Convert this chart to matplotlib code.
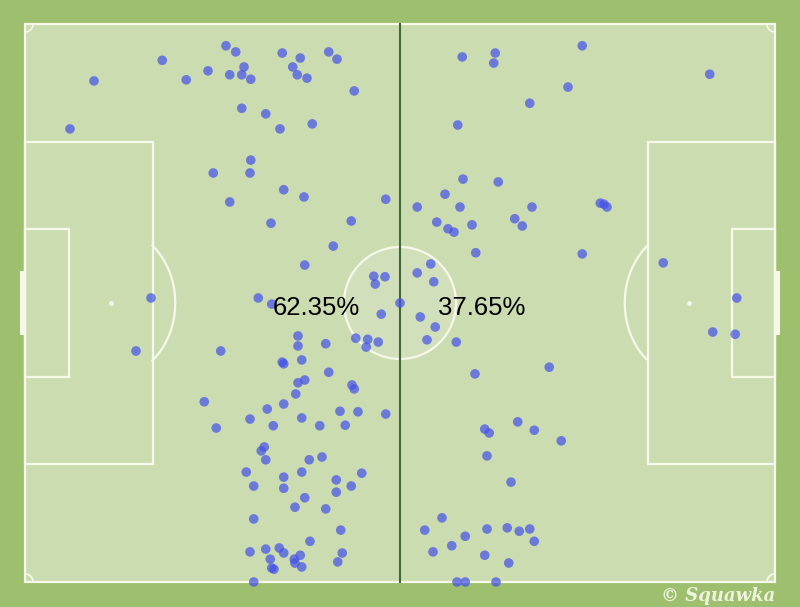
import numpy as np
import matplotlib.pyplot as plt
from matplotlib.patches import Rectangle, Ellipse

# event locations in Opta pitch units (0-100 both ways, y measured from bottom touchline)
left_x = [26.8, 28.1, 18.3, 34.3, 36.7, 40.5, 41.6, 9.2, 21.5, 24.4, 27.3, 29.2, 28.9, 30.1, 35.7,
          36.3, 37.6, 43.9, 28.9, 32.1, 34.0, 38.3, 6.0, 30.1, 25.1, 30.0, 34.5, 37.2, 48.1, 27.3,
          32.8, 43.5, 41.1, 37.3, 46.5, 48.0, 46.7, 16.8, 31.1, 32.9, 47.5, 50.0, 36.4, 36.4, 40.1,
          44.1, 45.7, 47.1, 45.5, 14.8, 26.1, 34.3, 34.5, 36.9, 40.5, 36.4, 37.3, 43.6, 43.9, 36.1,
          23.9, 32.3, 34.5, 42.0, 44.4, 48.1, 30.0, 36.9, 25.5, 33.1, 39.3, 42.7, 31.9, 31.5, 32.1,
          37.9, 39.6, 29.5, 34.5, 36.9, 44.9, 41.5, 43.5, 30.5, 34.5, 41.5, 37.3, 36.0, 40.1, 30.5,
          42.1, 38.0, 30.0, 32.1, 33.9, 34.5, 42.3, 32.7, 35.9, 36.7, 36.0, 41.7, 32.9, 33.2, 36.9,
          30.5]
left_y = [96.1, 95.0, 93.5, 94.8, 93.9, 95.0, 93.7, 89.8, 90.0, 91.6, 90.9, 92.3, 90.9, 90.1, 92.3,
          90.9, 90.3, 88.0, 84.9, 83.9, 81.2, 82.1, 81.2, 75.6, 73.3, 73.3, 70.3, 69.0, 68.6, 68.1,
          64.3, 64.7, 60.2, 56.8, 54.8, 54.7, 53.4, 50.9, 50.9, 49.8, 48.0, 50.0, 44.1, 42.3, 42.7,
          43.7, 43.5, 43.0, 42.1, 41.4, 41.4, 39.4, 39.1, 39.8, 37.6, 35.7, 36.2, 35.3, 34.6, 33.7,
          32.3, 31.0, 31.9, 30.6, 30.5, 30.1, 29.2, 29.4, 27.6, 28.0, 28.0, 28.1, 24.2, 23.5, 21.9,
          21.9, 22.4, 19.7, 18.8, 19.7, 19.5, 18.3, 17.2, 17.2, 16.8, 16.1, 15.1, 13.4, 13.1, 11.3,
          9.3, 7.3, 5.4, 5.9, 6.1, 5.2, 5.2, 4.1, 4.1, 4.8, 3.4, 3.6, 2.5, 2.3, 2.7,
          0.0]
right_x = [58.3, 62.7, 62.5, 74.3, 91.3, 72.4, 67.3, 57.7, 58.4, 63.1, 56.0, 52.3, 58.0, 67.6, 76.7,
           77.2, 77.6, 54.9, 56.4, 57.2, 59.6, 65.3, 66.3, 60.1, 74.3, 85.1, 54.1, 52.3, 54.5, 52.7,
           54.7, 53.6, 57.5, 94.9, 91.7, 94.7, 69.9, 60.0, 61.3, 61.9, 65.7, 67.9, 71.5, 61.6, 64.8,
           55.6, 53.3, 58.7, 56.9, 54.4, 61.6, 64.3, 65.9, 67.3, 67.9, 61.3, 64.5, 57.6, 58.7, 62.8]
right_y = [94.1, 94.8, 93.0, 96.1, 91.0, 88.7, 85.8, 81.9, 72.2, 71.7, 69.5, 67.2, 67.2, 67.2, 67.9,
           67.7, 67.2, 64.5, 63.3, 62.7, 64.0, 65.1, 63.8, 59.0, 58.8, 57.2, 57.0, 55.4, 53.8, 47.5,
           45.7, 43.4, 43.0, 50.9, 44.8, 44.4, 38.5, 37.3, 27.4, 26.7, 28.7, 27.2, 25.3, 22.6, 17.9,
           11.5, 9.3, 8.2, 6.5, 5.4, 9.5, 9.7, 9.1, 9.5, 7.3, 4.8, 3.4, 0.0, 0.0, 0.0]

labels = ["62.35%", "37.65%"]

# pitch is 750 x 558 px in the 800 x 607 image
sx, sy = 7.5, 5.58
outer = "#9dbf6e"
grass = "#cbdcb1"
line = "#f6f8e9"

fig = plt.figure(figsize=(8, 6.07), dpi=100, facecolor=outer)
ax = fig.add_axes([0, 0, 1, 1])
ax.set_xlim(-25 / sx, 775 / sx)
ax.set_ylim(-25 / sy, 582 / sy)
ax.axis('off')

lw = 1.6
ax.add_patch(Rectangle((0, 0), 100, 100, facecolor=grass, edgecolor=line, lw=lw, zorder=1))
for x0, w in [(0, 17), (83, 17)]:
    ax.add_patch(Rectangle((x0, 21.1), w, 57.8, fill=False, edgecolor=line, lw=lw, zorder=2))
for x0, w in [(0, 5.8), (94.2, 5.8)]:
    ax.add_patch(Rectangle((x0, 36.8), w, 26.4, fill=False, edgecolor=line, lw=lw, zorder=2))
# goals
ax.add_patch(Rectangle((-0.7, 44.2), 0.7, 11.6, facecolor=line, edgecolor='none', zorder=2))
ax.add_patch(Rectangle((100, 44.2), 0.7, 11.6, facecolor=line, edgecolor='none', zorder=2))

# centre circle + faint watermark
ax.add_patch(Ellipse((50, 50), 112 / sx, 112 / sy, facecolor='white', alpha=0.12,
                     edgecolor='none', zorder=1.5))
ax.add_patch(Ellipse((50, 50), 112 / sx, 112 / sy, fill=False, edgecolor=line, lw=lw, zorder=2))

# penalty arcs
t = np.linspace(-np.radians(50), np.radians(50), 100)
a, b = 64 / sx, 75 / sy
ax.plot(11.5 + a * np.cos(t), 50 + b * np.sin(t), color=line, lw=lw, zorder=2)
ax.plot(88.5 - a * np.cos(t), 50 + b * np.sin(t), color=line, lw=lw, zorder=2)
ax.scatter([11.5, 88.5], [50, 50], s=6, color=line, zorder=2)

# corner arcs
tc = np.linspace(0, np.pi / 2, 30)
rx, ry = 8 / sx, 8 / sy
for cx, cy, ex, ey in [(0, 0, 1, 1), (100, 0, -1, 1), (0, 100, 1, -1), (100, 100, -1, -1)]:
    ax.plot(cx + ex * rx * np.cos(tc), cy + ey * ry * np.sin(tc), color=line, lw=1.2, zorder=2)

# halfway line
ax.plot([50, 50], [0, 100], color="#3d6a36", lw=1.5, zorder=2)

ax.scatter(left_x + right_x, left_y + right_y, s=48, color="#4350e9", alpha=0.7,
           edgecolors='none', zorder=3)

ax.text(38.9, 47.8, labels[0], fontsize=18.5, family='Liberation Sans', ha='center',
        va='baseline', color='black', zorder=4)
ax.text(60.9, 47.8, labels[1], fontsize=18.5, family='Liberation Sans', ha='center',
        va='baseline', color='black', zorder=4)

ax.text(100, -3.4, "\u00a9 Squawka", fontsize=13, family='DejaVu Serif', style='italic',
        fontweight='bold', ha='right', va='baseline', color="#eef3dc", zorder=4)

plt.savefig("out.png", dpi=100, facecolor=outer)
